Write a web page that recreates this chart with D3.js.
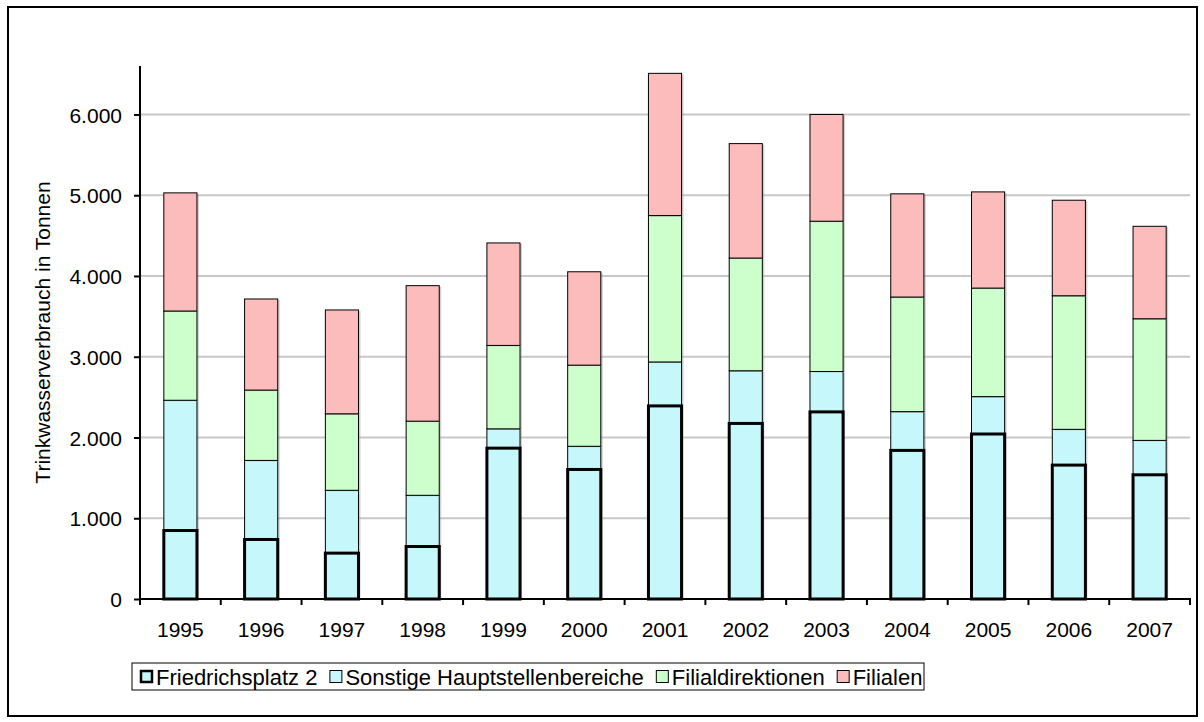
<!DOCTYPE html>
<html>
<head>
<meta charset="utf-8">
<script src="https://cdn.jsdelivr.net/npm/d3@7"></script>
<style>
  html, body { margin: 0; padding: 0; background: #fff; }
  svg { display: block; font-family: "Liberation Sans", Arial, sans-serif; }
</style>
</head>
<body>
<svg id="chart" width="1204" height="722"></svg>
<script>
const years = ["1995","1996","1997","1998","1999","2000","2001","2002","2003","2004","2005","2006","2007"];
const seriesNames = ["Friedrichsplatz 2", "Sonstige Hauptstellenbereiche", "Filialdirektionen", "Filialen"];
const friedrichsplatz = [848, 737, 568, 650, 1868, 1604, 2391, 2174, 2317, 1840, 2043, 1658, 1538];
const sonstige        = [1613, 979, 778, 634, 239, 287, 544, 652, 500, 480, 463, 443, 426];
const filialdirektionen = [1105, 871, 947, 918, 1033, 1005, 1813, 1396, 1861, 1419, 1344, 1654, 1506];
const filialen        = [1463, 1128, 1286, 1678, 1269, 1156, 1761, 1417, 1322, 1278, 1191, 1183, 1145];
const yTicks = [0, 1000, 2000, 3000, 4000, 5000, 6000];
const yTitle = "Trinkwasserverbrauch in Tonnen";

const colors = ["#c6f7fa", "#c6f7fa", "#ccffcc", "#fcbcbc"];
const strokeW = [3, 1, 1, 1];
const FONT = '"Liberation Sans", Arial, sans-serif';
const FS = 21;
const LFS = 22;

const svg = d3.select("#chart");
const locale = d3.formatLocale({decimal: ",", thousands: ".", grouping: [3], currency: ["", "€"]});
const fmt = locale.format(",d");

// outer border
svg.append("rect").attr("x", 8).attr("y", 7).attr("width", 1189).attr("height", 709)
  .attr("fill", "#fff").attr("stroke", "#000").attr("stroke-width", 2);

const x0 = 140, x1 = 1190, yBottom = 599, yTop = 66;
const x = d3.scaleBand().domain(years).range([x0, x1]).paddingInner(0.59).paddingOuter(0.295);
const xb = d3.scaleBand().domain(years).range([x0, x1]);
const y = d3.scaleLinear().domain([0, 6600]).range([yBottom, yTop]);

// gridlines
svg.append("g").selectAll("line").data(yTicks.filter(d => d > 0)).join("line")
  .attr("x1", x0).attr("x2", x1).attr("y1", d => y(d)).attr("y2", d => y(d))
  .attr("stroke", "#c8c8c8").attr("stroke-width", 2);

// stacking
const table = years.map((yr, i) => ({
  year: yr,
  [seriesNames[0]]: friedrichsplatz[i],
  [seriesNames[1]]: sonstige[i],
  [seriesNames[2]]: filialdirektionen[i],
  [seriesNames[3]]: filialen[i]
}));
const stacked = d3.stack().keys(seriesNames)(table);

const order = [1, 2, 3, 0];
order.forEach(si => {
  const layer = stacked[si];
  const g = svg.append("g");
  g.selectAll("rect.sh").data(layer).join("rect").attr("class", "sh")
    .attr("x", d => x(d.data.year) + 2)
    .attr("y", d => y(d[1]) + 1)
    .attr("width", x.bandwidth())
    .attr("height", d => y(d[0]) - y(d[1]))
    .attr("fill", "#9a9a9a").attr("opacity", 0.45);
  g.selectAll("rect.bar").data(layer).join("rect").attr("class", "bar")
    .attr("x", d => x(d.data.year))
    .attr("y", d => y(d[1]))
    .attr("width", x.bandwidth())
    .attr("height", d => y(d[0]) - y(d[1]))
    .attr("fill", colors[si]).attr("stroke", "#000").attr("stroke-width", strokeW[si]);
});

// y axis
const yAxis = d3.axisLeft(y).tickValues(yTicks).tickFormat(fmt).tickSize(6).tickPadding(12);
const gy = svg.append("g").attr("transform", `translate(${x0},0)`).call(yAxis);
gy.select(".domain").attr("d", `M0,${yTop}V${yBottom}`).attr("stroke", "#000").attr("stroke-width", 2);
gy.selectAll(".tick line").attr("stroke", "#000").attr("stroke-width", 2);
gy.selectAll(".tick text").attr("dy", "0.36em")
  .attr("font-size", FS).attr("fill", "#000").attr("font-family", FONT);

// x axis
const gx = svg.append("g").attr("transform", `translate(0,${yBottom})`);
gx.append("line").attr("x1", x0 - 1).attr("x2", x1 + 1).attr("y1", 0).attr("y2", 0)
  .attr("stroke", "#000").attr("stroke-width", 2);
const boundaries = years.map(yr => xb(yr)).concat([x1]);
gx.selectAll("line.t").data(boundaries).join("line").attr("class", "t")
  .attr("x1", d => d).attr("x2", d => d).attr("y1", 0).attr("y2", 6)
  .attr("stroke", "#000").attr("stroke-width", 2);
gx.selectAll("text").data(years).join("text")
  .attr("x", d => xb(d) + xb.bandwidth() / 2).attr("y", 38)
  .attr("text-anchor", "middle").attr("font-size", FS).attr("font-family", FONT)
  .attr("fill", "#000").text(d => d);

// y title
svg.append("text")
  .attr("transform", `translate(50,${(yTop + yBottom) / 2}) rotate(-90)`)
  .attr("text-anchor", "middle").attr("font-size", FS).attr("font-family", FONT)
  .attr("fill", "#000").text(yTitle);

// legend
const lg = svg.append("g");
lg.append("rect").attr("x", 132).attr("y", 663).attr("width", 792).attr("height", 27)
  .attr("fill", "#fff").attr("stroke", "#000").attr("stroke-width", 1);
let lx = 140;
seriesNames.forEach((name, i) => {
  lg.append("rect").attr("x", lx + (i === 0 ? 1 : 0.5)).attr("y", 670.5 + (i === 0 ? 0.5 : 0))
    .attr("width", i === 0 ? 11 : 12).attr("height", i === 0 ? 11 : 12)
    .attr("fill", colors[i]).attr("stroke", "#000").attr("stroke-width", i === 0 ? 2.5 : 1);
  const t = lg.append("text").attr("x", lx + 16).attr("y", 684.5)
    .attr("font-size", LFS).attr("font-family", FONT).attr("fill", "#000").text(name);
  lx += 16 + t.node().getComputedTextLength() + 12;
});
</script>
</body>
</html>
